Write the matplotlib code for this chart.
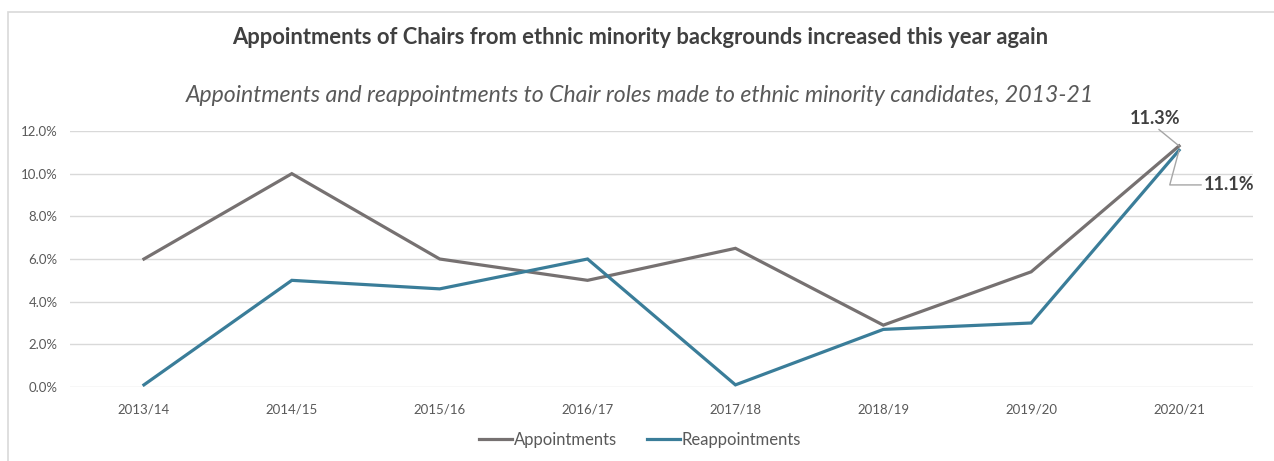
import matplotlib
matplotlib.use("Agg")
import matplotlib.pyplot as plt
from matplotlib.patches import Rectangle

plt.rcParams['font.family'] = ['Lato', 'DejaVu Sans']

years = ['2013/14', '2014/15', '2015/16', '2016/17', '2017/18', '2018/19', '2019/20', '2020/21']
appointments = [6.0, 10.0, 6.0, 5.0, 6.5, 2.9, 5.4, 11.3]
reappointments = [0.1, 5.0, 4.6, 6.0, 0.1, 2.7, 3.0, 11.1]

title = 'Appointments of Chairs from ethnic minority backgrounds increased this year again'
subtitle = 'Appointments and reappointments to Chair roles made to ethnic minority candidates, 2013-21'

GREY = '#767171'
TEAL = '#3a7d99'
TEXT = '#595959'

W, H = 1274, 461
fig = plt.figure(figsize=(W / 100, H / 100), dpi=100)

# chart frame
fig.patches.append(Rectangle((8 / W, -0.1), 1.2, 1.1 - 12 / H, transform=fig.transFigure,
                             fill=False, edgecolor='#d9d9d9', linewidth=1.2))

ax = fig.add_axes([70 / W, 1 - 387 / H, (1253 - 70) / W, (387 - 131) / H])
x = range(len(years))
ax.plot(x, appointments, color=GREY, lw=2.3, label='Appointments', solid_joinstyle='miter')
ax.plot(x, reappointments, color=TEAL, lw=2.3, label='Reappointments', solid_joinstyle='miter')

ax.set_xlim(-0.5, len(years) - 0.5)
ax.set_ylim(0, 12)
ax.set_yticks([0, 2, 4, 6, 8, 10, 12])
ax.set_yticklabels(['{:.1f}%'.format(v) for v in ax.get_yticks()])
ax.set_xticks(list(x))
ax.set_xticklabels(years)
ax.tick_params(length=0, colors=TEXT, labelsize=9.5)
ax.tick_params(axis='y', pad=9)
ax.tick_params(axis='x', pad=12)
ax.grid(axis='y', color='#d9d9d9', lw=1)
ax.set_axisbelow(True)
for s in ax.spines.values():
    s.set_visible(False)

# data labels on the last year
last = len(years) - 1
ax.annotate('{:.1f}%'.format(appointments[last]), xy=(last, appointments[last]),
            xytext=(-17, 20), textcoords='offset points', ha='center', va='center',
            fontsize=13, fontweight='bold', color='#404040',
            arrowprops=dict(arrowstyle='-', color='#a6a6a6', lw=1, shrinkA=0, shrinkB=0,
                            relpos=(0.5, 0.0)))
ax.annotate('{:.1f}%'.format(reappointments[last]), xy=(last, reappointments[last]),
            xytext=(18, -25), textcoords='offset points', ha='left', va='center',
            fontsize=13, fontweight='bold', color='#404040',
            arrowprops=dict(arrowstyle='-', color='#a6a6a6', lw=1, shrinkA=0, shrinkB=0,
                            connectionstyle='angle,angleA=0,angleB=75,rad=0',
                            relpos=(-0.05, 0.5)))

fig.text(640 / W, 1 - 38 / H, title, ha='center', va='center',
         fontsize=15.8, fontweight='bold', color='#404040')
fig.text(640 / W, 1 - 96 / H, subtitle, ha='center', va='center',
         fontsize=16.6, style='italic', color=TEXT)

fig.legend(loc='center', bbox_to_anchor=(640 / W, 1 - 440 / H), ncol=2, frameon=False,
           fontsize=12, handlelength=2.0, handletextpad=0.1, columnspacing=1.8,
           labelcolor=TEXT)

fig.savefig('out.png', dpi=100)
